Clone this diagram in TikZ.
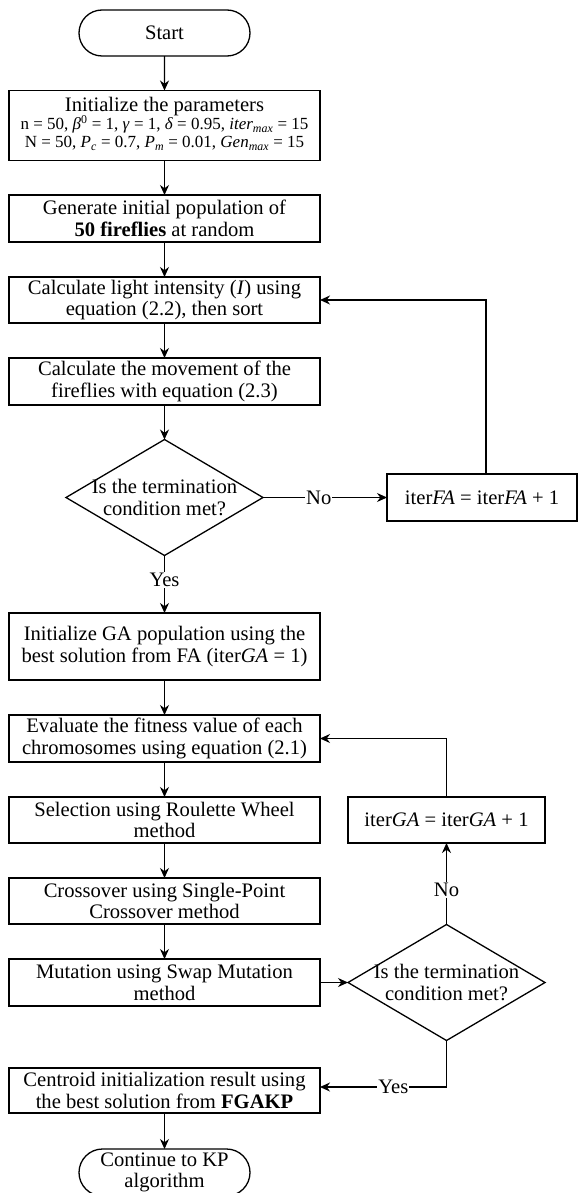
\documentclass[tikz,border=0pt]{standalone}
\usepackage{fontspec}
\setmainfont{Liberation Serif}
\usetikzlibrary{shapes.geometric,shapes.misc,arrows.meta}
\begin{document}
\begin{tikzpicture}[x=1pt,y=-1pt,
  every node/.style={font=\fontsize{20.6}{21.6}\selectfont, inner sep=0pt, outer sep=0pt},
  procbox/.style={draw, line width=1.3pt, minimum width=311pt, align=center},
  termbox/.style={draw, rounded rectangle, line width=1.3pt, minimum width=171pt, minimum height=46pt, align=center},
  decbox/.style={draw, diamond, line width=1.3pt, minimum width=197pt, minimum height=116pt},
  mathline/.style={anchor=base, font=\fontsize{17}{18}\selectfont},
  lbl/.style={fill=white, inner sep=1pt},
  flow/.style={line width=1.3pt, -{Stealth[length=10pt,width=9pt]}}
]
\useasboundingbox (0,0) rectangle (578,1193);

\node[termbox] (start) at (164.5,33) {Start};
\node[procbox, minimum height=70pt] (params) at (164.5,125.5) {};
\node[anchor=base] (p1) at (164.5,111.5) {Initialize the parameters};
\node[mathline] (p2) at (164.5,130) {n = 50, \textit{β}\textsuperscript{0} = 1, \textit{γ} = 1, \textit{δ} = 0.95, \textit{iter}\textsubscript{\textit{max}} = 15};
\node[mathline] (p3) at (164.5,148) {N = 50, \textit{P}\textsubscript{\textit{c}} = 0.7, \textit{P}\textsubscript{\textit{m}} = 0.01, \textit{Gen}\textsubscript{\textit{max}} = 15};

\node[procbox, minimum height=47pt] (gen) at (164.5,218.5) {Generate initial population of\\\textbf{50 fireflies} at random};
\node[procbox, minimum height=46pt] (light) at (164.5,300) {Calculate light intensity (\textit{I}) using\\equation (2.2), then sort};
\node[procbox, minimum height=47pt] (move) at (164.5,381.5) {Calculate the movement of the\\fireflies with equation (2.3)};
\node[decbox] (dec1) at (164.5,497.5) {};
\node[align=center] (dec1t) at (164.5,497.5) {Is the termination\\condition met?};
\node[procbox, minimum width=190pt, minimum height=47pt] (iterfa) at (482,497.5) {iter\textit{FA} = iter\textit{FA} + 1};

\node[procbox, minimum height=67pt] (gainit) at (164.5,646.5) {Initialize GA population using the\\best solution from FA (iter\textit{GA} = 1)};
\node[procbox, minimum height=47pt] (eval) at (164.5,738.5) {Evaluate the fitness value of each\\chromosomes using equation (2.1)};
\node[procbox, minimum height=46pt] (sel) at (164.5,820) {Selection using Roulette Wheel\\method};
\node[procbox, minimum width=197pt, minimum height=46pt] (iterga) at (446.5,820) {iter\textit{GA} = iter\textit{GA} + 1};
\node[procbox, minimum height=46pt] (cross) at (164.5,901) {Crossover using Single-Point\\Crossover method};
\node[procbox, minimum height=47pt] (mut) at (164.5,982.5) {Mutation using Swap Mutation\\method};
\node[decbox] (dec2) at (446.5,982.5) {};
\node[align=center] (dec2t) at (446.5,982.5) {Is the termination\\condition met?};
\node[procbox, minimum height=45pt] (cent) at (164.5,1090.5) {Centroid initialization result using\\the best solution from \textbf{FGAKP}};
\node[termbox, minimum height=47pt] (cont) at (164.5,1172.5) {Continue to KP\\algorithm};

\draw[flow] (start) -- (params);
\draw[flow] (params) -- (gen);
\draw[flow] (gen) -- (light);
\draw[flow] (light) -- (move);
\draw[flow] (move) -- (dec1);
\draw[flow] (dec1.east) -- node[lbl, pos=0.45] (no1) {No} (iterfa.west);
\draw[flow] ([xshift=4pt]iterfa.north) |- (light.east);
\draw[flow] (dec1.south) -- node[lbl, pos=0.43] (yes1) {Yes} (gainit.north);
\draw[flow] (gainit) -- (eval);
\draw[flow] (eval) -- (sel);
\draw[flow] (sel) -- (cross);
\draw[flow] (cross) -- (mut);
\draw[flow] (mut.east) -- (dec2.west);
\draw[flow] (dec2.north) -- node[lbl, pos=0.42] (no2) {No} (iterga.south);
\draw[flow] (iterga.north) |- (eval.east);
\draw[flow] (dec2.south) |- node[lbl, pos=0.71] (yes2) {Yes} ([yshift=3.5pt]cent.east);
\draw[flow] (cent) -- (cont);
\end{tikzpicture}
\end{document}
